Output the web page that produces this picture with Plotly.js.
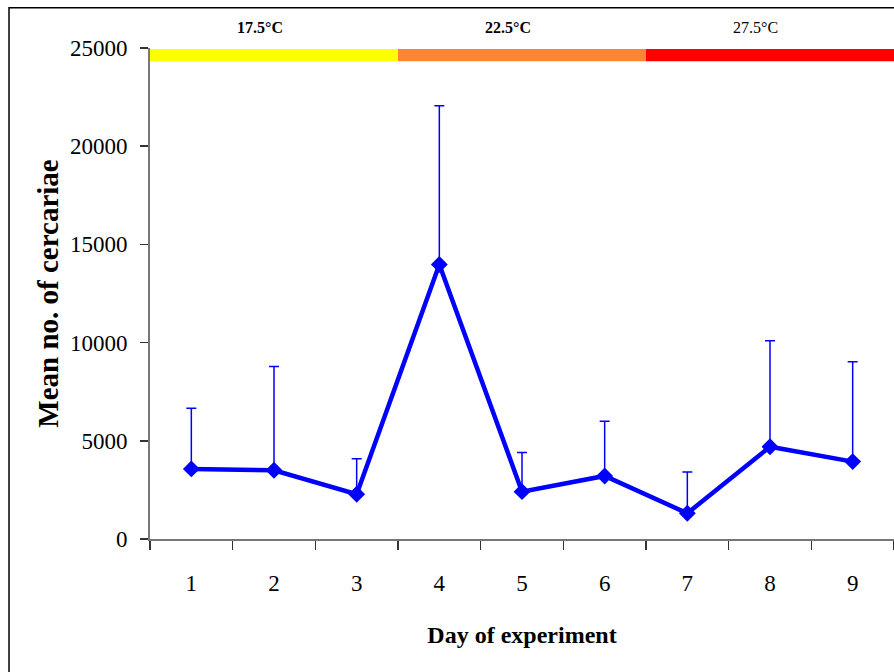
<!DOCTYPE html>
<html>
<head>
<meta charset="utf-8">
<script src="https://cdn.plot.ly/plotly-3.0.1.min.js"></script>
<style>html,body{margin:0;padding:0;background:#fff;}#chart{width:894px;height:672px;}</style>
</head>
<body>
<div id="chart"></div>
<script>
// Data
const days = ['1', '2', '3', '4', '5', '6', '7', '8', '9'];
const meanCercariae = [3570, 3500, 2280, 13980, 2410, 3210, 1310, 4700, 3940];
const errorPlus = [3090, 5280, 1810, 8080, 2000, 2790, 2100, 5390, 5080];
const tempLabels = ['17.5°C', '22.5°C', '27.5°C'];
const tempBold = [true, true, false];
const tempColors = ['#FFFF00', '#FF8533', '#FF0000'];
const tempFirstDay = [0, 3, 6];   // index of first day in each temperature block
const tempDaysPerBlock = [3, 3, 3];

const serif = '"Liberation Serif", "Times New Roman", serif';

const trace = {
  type: 'scatter',
  mode: 'lines+markers',
  x: days,
  y: meanCercariae,
  line: {color: '#0000FF', width: 4.5},
  marker: {symbol: 'diamond', size: 13, color: '#0000FF'},
  error_y: {
    type: 'data', symmetric: false,
    array: errorPlus,
    arrayminus: days.map(() => 0),
    color: '#0000FF', thickness: 1.5, width: 5
  },
  showlegend: false,
  cliponaxis: false
};

const shapes = [];
const annotations = [];
tempLabels.forEach((lab, i) => {
  const s = tempFirstDay[i] - 0.5;
  const e = s + tempDaysPerBlock[i];
  shapes.push({
    type: 'rect', xref: 'x', yref: 'y',
    x0: s, x1: e, y0: 24320, y1: 24950,
    fillcolor: tempColors[i], line: {width: 0}, layer: 'above'
  });
  annotations.push({
    xref: 'x', yref: 'paper',
    x: s + 1.33, y: 1.0414,
    xanchor: 'center', yanchor: 'middle',
    text: tempBold[i] ? '<b>' + lab + '</b>' : lab,
    showarrow: false,
    font: {family: serif, size: 16, color: '#000'}
  });
});
// outer frame of the figure
shapes.push({
  type: 'rect', xref: 'paper', yref: 'paper',
  x0: -0.1895, x1: 1.2, y0: -0.5, y1: 1.0821,
  line: {color: '#000', width: 1.5}, fillcolor: 'rgba(0,0,0,0)', layer: 'below'
});

const layout = {
  width: 894, height: 672,
  margin: {l: 150, r: 0, t: 48, b: 133},
  paper_bgcolor: '#fff', plot_bgcolor: '#fff',
  font: {family: serif, color: '#000'},
  xaxis: {
    type: 'category',
    range: [-0.5, 8.5],
    tickson: 'boundaries',
    ticks: 'outside', ticklen: 9, tickwidth: 1.5, tickcolor: '#333',
    showline: true, linecolor: '#777', linewidth: 2,
    showgrid: false, zeroline: false,
    tickfont: {family: serif, size: 23, color: '#000'},
    ticklabelstandoff: 22,
    title: {text: '<b>Day of experiment</b>', font: {family: serif, size: 24, color: '#000'}, standoff: 32},
    automargin: false
  },
  yaxis: {
    range: [0, 25000],
    tickvals: [0, 5000, 10000, 15000, 20000, 25000],
    ticktext: ['0', '5000', '10000', '15000', '20000', '25000'],
    ticks: 'outside', ticklen: 8, tickwidth: 1.5, tickcolor: '#333',
    showline: true, linecolor: '#777', linewidth: 2,
    showgrid: false, zeroline: false,
    tickfont: {family: serif, size: 23, color: '#000'},
    ticklabelstandoff: 8,
    title: {text: '<b>Mean no. of cercariae</b>', font: {family: serif, size: 29, color: '#000'}, standoff: 3},
    automargin: false
  },
  shapes: shapes,
  annotations: annotations
};

Plotly.newPlot('chart', [trace], layout, {displayModeBar: false, staticPlot: true});
</script>
</body>
</html>
